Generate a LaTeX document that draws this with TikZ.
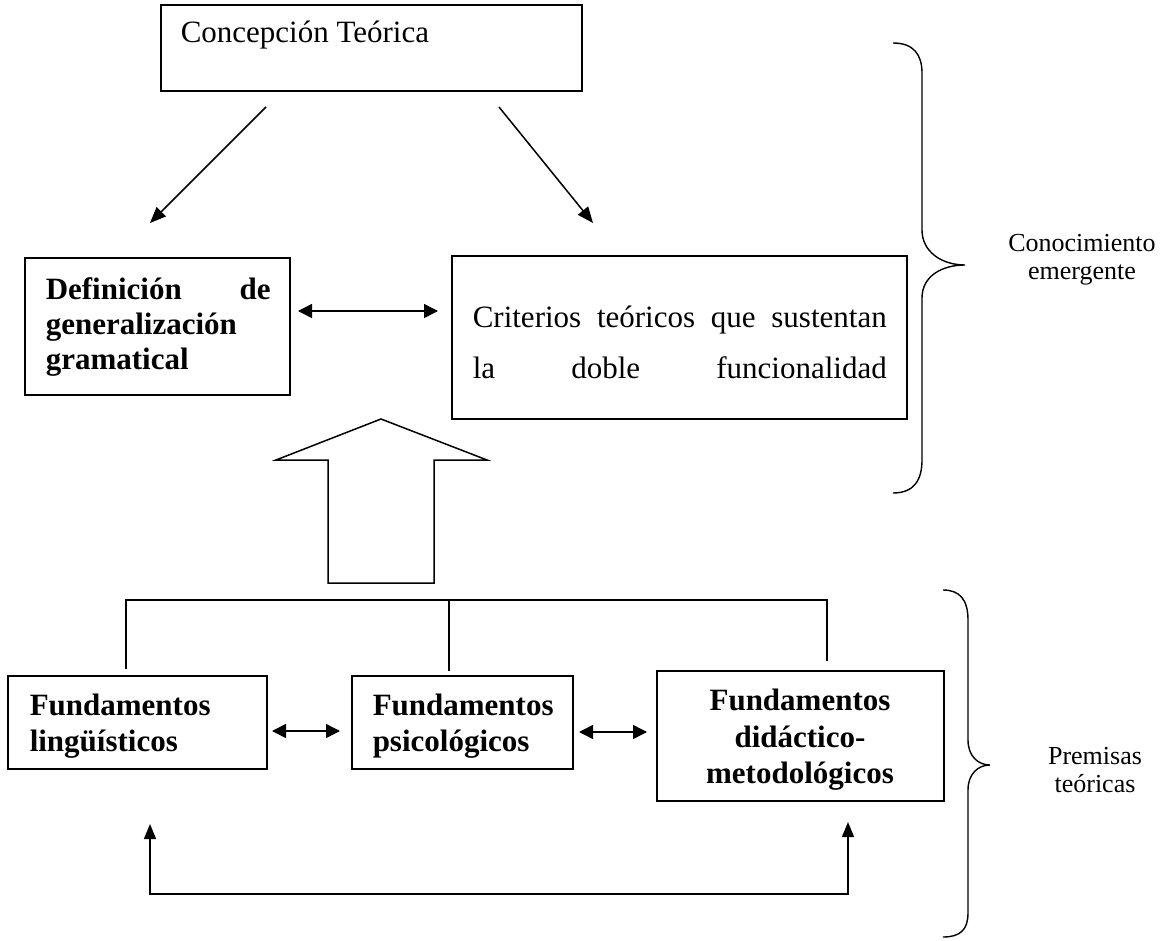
\documentclass[tikz,border=0pt]{standalone}
\usepackage{fontspec}
\setmainfont{Liberation Serif}
\usetikzlibrary{arrows.meta}
\begin{document}
\begin{tikzpicture}[x=1pt,y=-1pt,line width=1.5pt,
  box/.style={draw,inner sep=0pt,line width=1.6pt},
  txt/.style={inner sep=0pt,anchor=base west,font=\fontsize{31}{36}\selectfont},
  btxt/.style={inner sep=0pt,anchor=base west,font=\fontsize{31}{36}\selectfont\bfseries},
  ctxt/.style={inner sep=0pt,anchor=base,font=\fontsize{31}{36}\selectfont\bfseries},
  side/.style={inner sep=0pt,anchor=base,font=\fontsize{26}{30}\selectfont},
  bigtip/.style={-{Triangle[length=16pt,width=13pt]}},
  dbltip/.style={{Triangle[length=14pt,width=14pt]}-{Triangle[length=14pt,width=14pt]}},
  uptip/.style={{Triangle[length=15pt,width=12pt]}-{Triangle[length=15pt,width=12pt]}}]
\useasboundingbox (0,0) rectangle (1173,941);

% boxes
\node[box,minimum width=421pt,minimum height=86pt] (top) at (371.5,48) {};
\node[box,minimum width=265pt,minimum height=137pt] (def) at (157.5,326.5) {};
\node[box,minimum width=455pt,minimum height=163pt] (crit) at (679.5,337.5) {};
\node[box,minimum width=259pt,minimum height=93pt] (ling) at (137.5,722.5) {};
\node[box,minimum width=221pt,minimum height=93pt] (psico) at (462.5,722.5) {};
\node[box,minimum width=287pt,minimum height=130pt] (did) at (800.5,736) {};

% texts
\node[txt] (t1) at (180,43) {Concepción Teórica};
\node[btxt] (d1) at (45,300) {\makebox[225pt]{Definición\hfill de}};
\node[btxt] (d2) at (45,335) {generalización};
\node[btxt] (d3) at (45,370) {gramatical};
\node[txt] (c1) at (472,327) {\makebox[414pt]{Criterios\hfill teóricos\hfill que\hfill sustentan}};
\node[txt] (c2) at (472,378) {\makebox[414pt]{la\hfill doble\hfill funcionalidad}};
\node[btxt] (l1) at (29,715) {Fundamentos};
\node[btxt] (l2) at (29,751) {lingüísticos};
\node[btxt] (p1) at (372,715) {Fundamentos};
\node[btxt] (p2) at (372,751) {psicológicos};
\node[ctxt] (m1) at (800,710) {Fundamentos};
\node[ctxt] (m2) at (800,747) {didáctico-};
\node[ctxt] (m3) at (800,783) {metodológicos};
\node[side] (s1) at (1082,252) {Conocimiento};
\node[side] (s2) at (1082,280) {emergente};
\node[side] (s3) at (1095,764) {Premisas};
\node[side] (s4) at (1095,792) {teóricas};

% arrow end points
\coordinate (a1s) at (266,107); \coordinate (a1e) at (150,223);
\coordinate (a2s) at (499,107); \coordinate (a2e) at (593,223);
\coordinate (h1s) at (298,311); \coordinate (h1e) at (438,311);
\coordinate (h2s) at (272,731); \coordinate (h2e) at (340,731);
\coordinate (h3s) at (579,732); \coordinate (h3e) at (647,732);
\coordinate (v1) at (126,669); \coordinate (v1t) at (126,600);
\coordinate (v2) at (449,671); \coordinate (v2t) at (449,600);
\coordinate (v3) at (827,661); \coordinate (v3t) at (827,600);
\coordinate (bl) at (150,824); \coordinate (blc) at (150,894);
\coordinate (br) at (848,822); \coordinate (brc) at (848,894);

\draw[bigtip] (a1s) -- (a1e);
\draw[bigtip] (a2s) -- (a2e);
\draw[dbltip] (h1s) -- (h1e);
\draw[dbltip] (h2s) -- (h2e);
\draw[dbltip] (h3s) -- (h3e);
\draw (v1) -- (v1t) -- (v3t) -- (v3);
\draw (v2t) -- (v2);
\draw[uptip] (bl) -- (blc) -- (brc) -- (br);

% big hollow arrow
\draw[line width=1.5pt,line join=miter] (328,583) -- (328,460) -- (276,460) -- (381,419) -- (487,460) -- (434,460) -- (434,583) -- cycle;

% braces
\draw[line width=1.4pt] (893,43) .. controls (914,43) and (922,55) .. (922,73) -- (922,230)
  .. controls (922,252) and (942,265) .. (965,265)
  .. controls (942,265) and (922,276) .. (922,298) -- (922,460)
  .. controls (922,480) and (914,493) .. (893,493);
\draw[line width=1.4pt] (943,590) .. controls (960,590) and (968,600) .. (968,620) -- (968,740)
  .. controls (968,756) and (978,765) .. (990,765)
  .. controls (978,765) and (968,774) .. (968,790) -- (968,913)
  .. controls (968,930) and (960,937) .. (943,937);
\end{tikzpicture}
\end{document}
